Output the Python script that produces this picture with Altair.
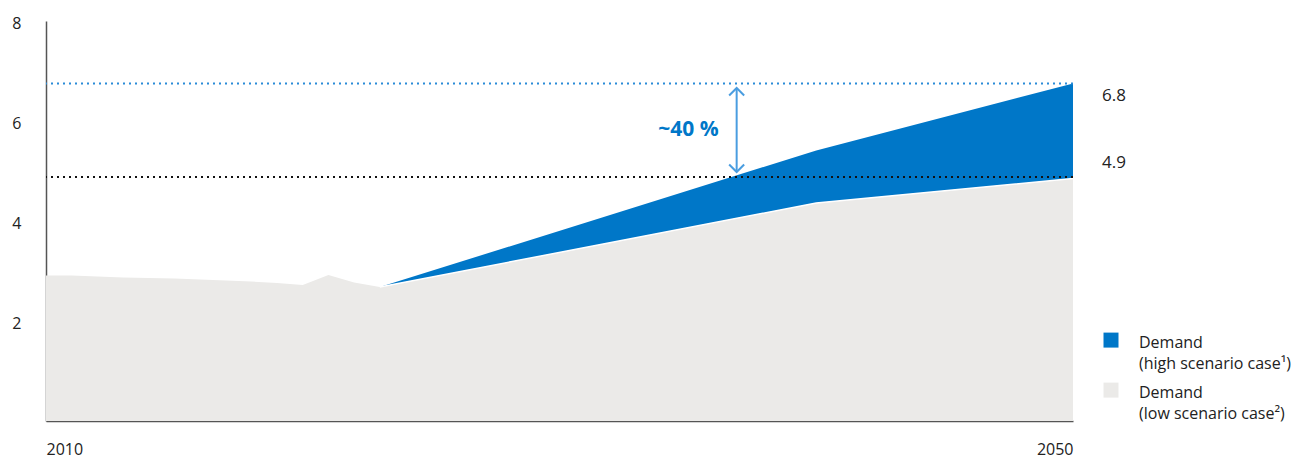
import altair as alt
import pandas as pd

# ---- data ----
years = [2010, 2011, 2012, 2013, 2014, 2015, 2016, 2017, 2018, 2019, 2020, 2021, 2022, 2023, 2040, 2050]
low_demand = [2.91, 2.91, 2.89, 2.87, 2.86, 2.85, 2.83, 2.81, 2.79, 2.76, 2.72, 2.92, 2.77, 2.68, 4.36, 4.85]
high_years = [2023, 2040, 2050]
high_demand = [2.68, 5.41, 6.75]

high_label = "Demand|(high scenario case\u00b9)"
low_label = "Demand|(low scenario case\u00b2)"
series_labels = [high_label, low_label]
series_colors = ["#0077C8", "#EBEAE8"]

ref_values = [6.75, 4.88]
ref_texts = ["6.8", "4.9"]
ref_colors = ["#2A8BD8", "#111111"]

arrow_year = [2036.9]
arrow_top = [6.66]
arrow_bottom = [4.98]
arrow_text = ["~40 %"]

x_ticks = [2010, 2050]
y_ticks = [2, 4, 6, 8]

FONT = "Open Sans"

# ---- tables ----
low_map = dict(zip(years, low_demand))
rows = []
for y, v in zip(years, low_demand):
    rows.append({"year": y, "series": low_label, "top": v, "bottom": 0.0})
for y, v in zip(high_years, high_demand):
    rows.append({"year": y, "series": high_label, "top": v, "bottom": low_map[y]})
area_df = pd.DataFrame(rows)

edge_df = pd.DataFrame({"year": [y for y in years if y >= 2023],
                        "value": [low_map[y] for y in years if y >= 2023]})

ref_df = pd.DataFrame({"value": ref_values, "label": ref_texts, "year": [2050, 2050]})
arrow_df = pd.DataFrame({"year": arrow_year, "top": arrow_top, "bottom": arrow_bottom, "label": arrow_text,
                         "mid": [(a + b) / 2 for a, b in zip(arrow_top, arrow_bottom)]})

xscale = alt.Scale(domain=[2010, 2050], nice=False, zero=False)
yscale = alt.Scale(domain=[0, 8], nice=False)

x_enc = alt.X("year:Q", scale=xscale,
              axis=alt.Axis(values=x_ticks, format="d", title=None, labelFlush=True,
                            labelPadding=20, ticks=False, grid=False))
y_axis = alt.Axis(values=y_ticks, title=None, ticks=False, grid=False, labelPadding=25, labelOffset=2)

areas = alt.Chart(area_df).mark_area(interpolate="linear", opacity=1).encode(
    x=x_enc,
    y=alt.Y("top:Q", scale=yscale, axis=y_axis, stack=None),
    y2="bottom:Q",
    color=alt.Color("series:N",
                    scale=alt.Scale(domain=series_labels, range=series_colors),
                    legend=alt.Legend(title=None, orient="none", legendX=1057, legendY=306,
                                      symbolType="M-1,-0.32H1V1.68H-1Z", symbolSize=225,
                                      symbolStrokeWidth=0,
                                      labelExpr="split(datum.label, '|')",
                                      labelFont=FONT, labelFontSize=16, labelColor="#222222",
                                      labelBaseline="top", labelOffset=20, labelLimit=300,
                                      rowPadding=5, padding=0)),
)

edge = alt.Chart(edge_df).mark_line(color="white", strokeWidth=1.5).encode(
    x=alt.X("year:Q", scale=xscale),
    y=alt.Y("value:Q", scale=yscale),
)

rules = alt.Chart(ref_df).mark_rule(strokeDash=[2, 4], strokeWidth=2).encode(
    y=alt.Y("value:Q", scale=yscale),
    color=alt.Color("label:N", scale=alt.Scale(domain=ref_texts, range=ref_colors), legend=None),
)

ref_text_hi = alt.Chart(ref_df.iloc[[0]]).mark_text(
    align="left", baseline="middle", dx=29, dy=12, font=FONT, fontSize=17, color="#222222"
).encode(x=alt.X("year:Q", scale=xscale), y=alt.Y("value:Q", scale=yscale), text="label:N")

ref_text_lo = alt.Chart(ref_df.iloc[[1]]).mark_text(
    align="left", baseline="middle", dx=29, dy=-14, font=FONT, fontSize=17, color="#222222"
).encode(x=alt.X("year:Q", scale=xscale), y=alt.Y("value:Q", scale=yscale), text="label:N")

shaft = alt.Chart(arrow_df).mark_rule(color="#4A9DE0", strokeWidth=2).encode(
    x=alt.X("year:Q", scale=xscale),
    y=alt.Y("top:Q", scale=yscale),
    y2="bottom:Q",
)
head_top = alt.Chart(arrow_df).mark_point(
    shape="M-1,1L0,0L1,1", size=225, filled=False, color="#4A9DE0", strokeWidth=2, opacity=1
).encode(x=alt.X("year:Q", scale=xscale), y=alt.Y("top:Q", scale=yscale))
head_bot = alt.Chart(arrow_df).mark_point(
    shape="M-1,-1L0,0L1,-1", size=225, filled=False, color="#4A9DE0", strokeWidth=2, opacity=1
).encode(x=alt.X("year:Q", scale=xscale), y=alt.Y("bottom:Q", scale=yscale))

pct = alt.Chart(arrow_df).mark_text(
    align="right", baseline="middle", dx=-18, font=FONT, fontSize=21, fontWeight="bold", color="#0077C8"
).encode(x=alt.X("year:Q", scale=xscale), y=alt.Y("mid:Q", scale=yscale), text="label:N")

chart = alt.layer(areas, edge, rules, ref_text_hi, ref_text_lo, shaft, head_top, head_bot, pct).resolve_scale(
    color="independent"
).properties(
    width=1027, height=400,
    autosize=alt.AutoSizeParams(type="none"),
    padding={"left": 46, "top": 21, "right": 219, "bottom": 37},
)

chart.config = alt.Config(
    view=alt.ViewConfig(strokeWidth=0),
    axis=alt.AxisConfig(domainColor="#555555", domainWidth=1.5, labelFont=FONT,
                        labelFontSize=16, labelColor="#222222"),
    style={"guide-label": {"lineHeight": 21}},
)

chart.save("out.html", embed_options={"renderer": "svg", "actions": False})
